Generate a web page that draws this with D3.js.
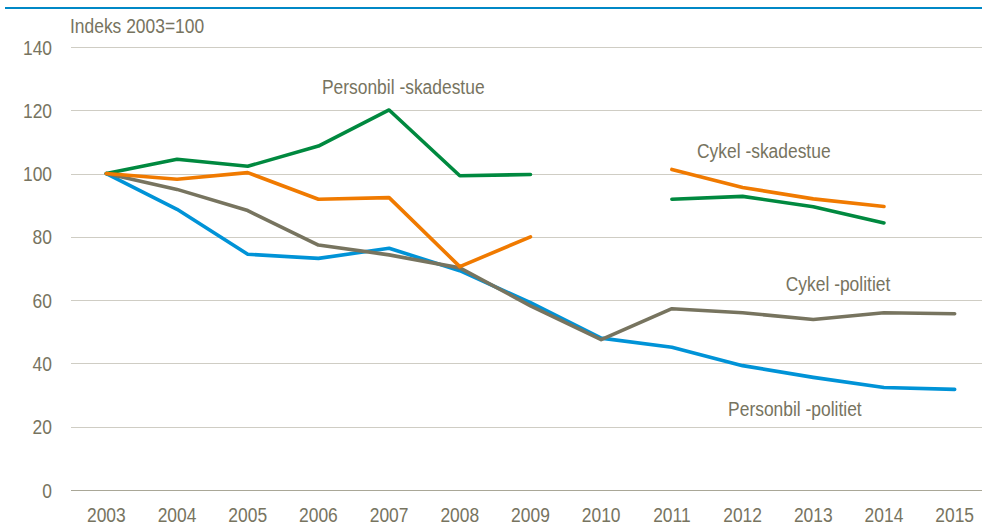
<!DOCTYPE html>
<html><head><meta charset="utf-8">
<script src="https://cdn.jsdelivr.net/npm/d3@7"></script>
<style>html,body{margin:0;padding:0;background:#fff;}svg{display:block;}</style>
</head><body>
<svg id="c" width="982" height="527"></svg>
<script>
const years = ["2003","2004","2005","2006","2007","2008","2009","2010","2011","2012","2013","2014","2015"];
const yTicks = [0,20,40,60,80,100,120,140];
const personbilPolitiet = [100,88.7,74.5,73.2,76.4,69.3,59.2,48.0,45.1,39.3,35.6,32.4,31.8];
const cykelPolitiet     = [100,95.0,88.3,77.4,74.3,70.2,58.2,47.5,57.3,56.0,53.9,56.0,55.7];
const personbilSkadestue= [100,104.5,102.3,108.7,120.1,99.3,99.7,null,91.9,92.8,89.5,84.4,null];
const cykelSkadestue    = [100,98.2,100.3,91.9,92.4,70.6,80.0,null,101.3,95.6,92.0,89.6,null];
const seriesNames = ["Personbil -politiet","Cykel -politiet","Personbil -skadestue","Cykel -skadestue"];
const seriesColors = ["#0093d7","#77745f","#00893f","#f07a00"];
const yLabel = "Indeks 2003=100";

const FONT = "'Liberation Sans',Arial,sans-serif";
const SX = 0.83; // narrow-font emulation
const svg = d3.select("#c");
const x = d3.scaleBand().domain(years).range([71, 990]);
const xc = d => x(d) + x.bandwidth()/2;
const y = d3.scaleLinear().domain([0,140]).range([490, 47]);

function txt(sel, fx, fy){
  return sel.attr("x",0).attr("y",0)
    .attr("transform",(d,i)=>`translate(${fx(d,i)},${fy(d,i)}) scale(${SX},1)`)
    .attr("font-family",FONT).attr("font-size",21).attr("fill","#77745f");
}

// top rule
svg.append("rect").attr("x",5).attr("y",7).attr("width",977).attr("height",2).attr("fill","#0088c6");

// gridlines
svg.append("g").selectAll("line").data(yTicks).join("line")
  .attr("x1",71).attr("x2",982)
  .attr("y1",d=>Math.round(y(d))+0.5).attr("y2",d=>Math.round(y(d))+0.5)
  .attr("stroke",d=>d===0?"#a9a797":"#cfcdc4").attr("stroke-width",1);

// y labels
txt(svg.append("g").selectAll("text").data(yTicks).join("text"), ()=>52, d=>y(d)+7.5)
  .attr("text-anchor","end").text(d=>d);

// x labels
txt(svg.append("g").selectAll("text").data(years).join("text"), d=>xc(d), ()=>522)
  .attr("text-anchor","middle").text(d=>d);

txt(svg.append("text").datum(yLabel), ()=>70, ()=>33).text(d=>d);

const allSeries = [personbilPolitiet, cykelPolitiet, personbilSkadestue, cykelSkadestue];
const line = d3.line().defined(d=>d.v!=null).x(d=>xc(d.year)).y(d=>y(d.v));
allSeries.forEach((s,i)=>{
  svg.append("path").datum(years.map((yr,j)=>({year:yr,v:s[j]})))
    .attr("d",line).attr("fill","none").attr("stroke",seriesColors[i])
    .attr("stroke-width",3.6).attr("stroke-linejoin","round").attr("stroke-linecap","round");
});

// series labels
const labels = [
  {name:seriesNames[0], year:"2012", dx:0.74, v:23.3},
  {name:seriesNames[1], year:"2013", dx:0.35, v:62.9},
  {name:seriesNames[2], year:"2007", dx:0.2, v:125.2},
  {name:seriesNames[3], year:"2012", dx:0.3, v:104.9}
];
txt(svg.append("g").selectAll("text").data(labels).join("text"),
    d=>xc(d.year)+d.dx*x.bandwidth(), d=>y(d.v))
  .attr("text-anchor","middle").text(d=>d.name);
</script>
</body></html>
